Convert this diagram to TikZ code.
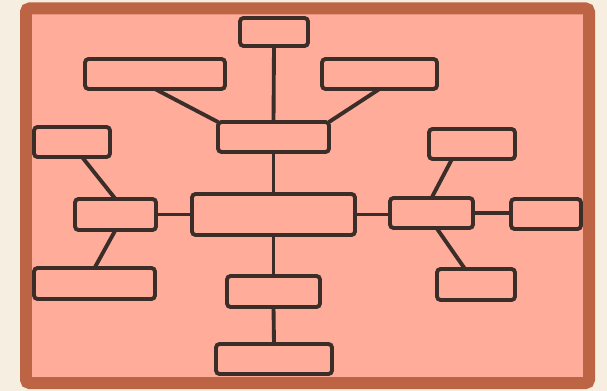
\documentclass[tikz,border=0pt]{standalone}
\usepackage{tikz}
\usetikzlibrary{positioning,calc}

\definecolor{cream}{HTML}{F6EFE1}
\definecolor{frame}{HTML}{BD6445}
\definecolor{salmon}{HTML}{FFAC9A}
\definecolor{ink}{HTML}{3B2D28}

\begin{document}
\begin{tikzpicture}[x=0.02cm,y=-0.02cm,
    box/.style={draw=ink,line width=2.2pt,rounded corners=2pt,fill=salmon,inner sep=0pt,outer sep=0pt},
    link/.style={draw=ink,line width=2.2pt}]

        \fill[cream] (0,0) rectangle (607,391);
        \draw[frame,fill=salmon,line width=0.24cm,rounded corners=2pt] (26,8.5) rectangle (589,383);

        % boxes
        \node[box,minimum width=1.36cm,minimum height=0.56cm] (top) at (274,32) {};
        \node[box,minimum width=2.80cm,minimum height=0.60cm] (upleft) at (155,74) {};
        \node[box,minimum width=2.30cm,minimum height=0.60cm] (upright) at (379.5,74) {};
        \node[box,minimum width=2.22cm,minimum height=0.60cm] (upper) at (273.5,137) {};
        \node[box,minimum width=3.26cm,minimum height=0.82cm] (hub) at (273.5,214.5) {};
        \node[box,minimum width=1.86cm,minimum height=0.62cm] (lower) at (273.5,291.5) {};
        \node[box,minimum width=2.32cm,minimum height=0.60cm] (bottom) at (274,359) {};

        \node[box,minimum width=1.52cm,minimum height=0.60cm] (lefttop) at (72,142) {};
        \node[box,minimum width=1.62cm,minimum height=0.62cm] (leftmid) at (115.5,214.5) {};
        \node[box,minimum width=2.42cm,minimum height=0.62cm] (leftbot) at (94.5,283.5) {};

        \node[box,minimum width=1.72cm,minimum height=0.60cm] (righttop) at (472,144) {};
        \node[box,minimum width=1.66cm,minimum height=0.60cm] (rightmid) at (431.5,213) {};
        \node[box,minimum width=1.40cm,minimum height=0.60cm] (rightfar) at (546,214) {};
        \node[box,minimum width=1.56cm,minimum height=0.62cm] (rightbot) at (476,284.5) {};

        % links
        \draw[link] (top.south) -- (upper.north);
        \draw[link] (upleft.south) -- (upper.north west);
        \draw[link] (upright.south) -- (upper.north east);
        \draw[link] (upper.south) -- (hub.north);
        \draw[link] (hub.south) -- (lower.north);
        \draw[link] (lower.south) -- (bottom.north);

        \draw[link] ([xshift=0.2cm]lefttop.south) -- (leftmid.north);
        \draw[link] (leftmid.south) -- (leftbot.north);
        \draw[link] (leftmid.east) -- (hub.west);

        \draw[link] (hub.east) -- (hub.east -| rightmid.west);
        \draw[link] (rightmid.east) -- (rightmid.east -| rightfar.west);
        \draw[link] ([xshift=-0.4cm]righttop.south) -- (rightmid.north);
        \draw[link] ([xshift=0.1cm]rightmid.south) -- ([xshift=-0.22cm]rightbot.north);

\end{tikzpicture}
\end{document}
